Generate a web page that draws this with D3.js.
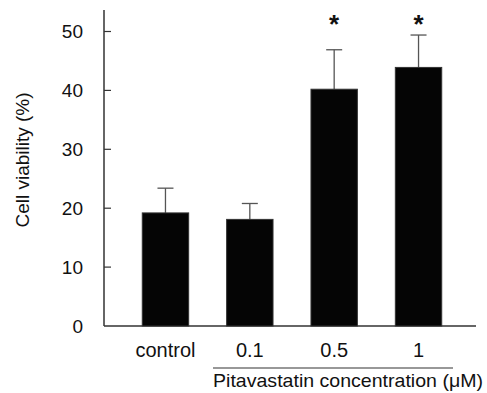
<!DOCTYPE html>
<html>
<head>
<meta charset="utf-8">
<script src="https://cdn.jsdelivr.net/npm/d3@7"></script>
<style>
  body { margin: 0; background: #fff; }
  svg { display: block; font-family: Arial, "Liberation Sans", sans-serif; }
</style>
</head>
<body>
<svg id="chart" width="487" height="393"></svg>
<script>
// data
const groups = ['control', '0.1', '0.5', '1'];
const means = [19.2, 18.1, 40.2, 43.9];
const errors = [4.2, 2.7, 6.7, 5.5];
const significant = [false, false, true, true];
const yTicks = [0, 10, 20, 30, 40, 50];

const svg = d3.select('#chart');
const ink = '#333';

const y = d3.scaleLinear().domain([0, 50]).range([326, 31.5]);
const x = d3.scaleBand()
  .domain(groups)
  .range([106, 478])
  .paddingInner(0.45)
  .paddingOuter(0.43);

// axes
const axisX0 = 104;
svg.append('line')
  .attr('x1', axisX0).attr('x2', axisX0)
  .attr('y1', 10).attr('y2', y(0))
  .attr('stroke', ink).attr('stroke-width', 1.5);
svg.append('line')
  .attr('x1', axisX0).attr('x2', 476)
  .attr('y1', y(0)).attr('y2', y(0))
  .attr('stroke', ink).attr('stroke-width', 1.5);

const yt = svg.append('g');
yt.selectAll('line').data(yTicks.filter(d => d > 0)).join('line')
  .attr('x1', axisX0).attr('x2', axisX0 + 7)
  .attr('y1', d => y(d)).attr('y2', d => y(d))
  .attr('stroke', ink).attr('stroke-width', 1.2);
yt.selectAll('text').data(yTicks).join('text')
  .attr('x', 83).attr('y', d => y(d))
  .attr('dy', '0.35em')
  .attr('text-anchor', 'end')
  .attr('font-size', 19)
  .attr('fill', '#111')
  .text(d => d);

svg.append('text')
  .attr('transform', `translate(29,160) rotate(-90)`)
  .attr('text-anchor', 'middle')
  .attr('font-size', 19)
  .attr('fill', '#111')
  .text('Cell viability (%)');

// error bars (upper only)
const eb = svg.append('g').attr('stroke', '#555').attr('stroke-width', 1.3);
groups.forEach((g, i) => {
  const cx = x(g) + x.bandwidth() / 2;
  eb.append('line')
    .attr('x1', cx).attr('x2', cx)
    .attr('y1', y(means[i])).attr('y2', y(means[i] + errors[i]));
  eb.append('line')
    .attr('x1', cx - 8).attr('x2', cx + 8)
    .attr('y1', y(means[i] + errors[i])).attr('y2', y(means[i] + errors[i]));
});

// bars
svg.append('g').selectAll('rect').data(groups).join('rect')
  .attr('x', d => x(d))
  .attr('width', x.bandwidth())
  .attr('y', (d, i) => y(means[i]))
  .attr('height', (d, i) => y(0) - y(means[i]))
  .attr('fill', '#050505')
  .attr('stroke', '#333')
  .attr('stroke-width', 1);

// significance marks
svg.append('g').selectAll('text').data(groups.filter((g, i) => significant[i])).join('text')
  .attr('x', d => x(d) + x.bandwidth() / 2)
  .attr('y', 33)
  .attr('text-anchor', 'middle')
  .attr('font-size', 26)
  .attr('font-weight', 'bold')
  .attr('fill', '#111')
  .text('*');

// category labels
svg.append('g').selectAll('text').data(groups).join('text')
  .attr('x', d => x(d) + x.bandwidth() / 2)
  .attr('y', 350)
  .attr('dy', '0.35em')
  .attr('text-anchor', 'middle')
  .attr('font-size', 20)
  .attr('fill', '#111')
  .text(d => d);

svg.append('line')
  .attr('x1', 213).attr('x2', 453)
  .attr('y1', 368).attr('y2', 368)
  .attr('stroke', ink).attr('stroke-width', 1.2);

svg.append('text')
  .attr('x', 213).attr('y', 387)
  .attr('font-size', 19)
  .attr('textLength', 270)
  .attr('lengthAdjust', 'spacingAndGlyphs')
  .attr('fill', '#111')
  .text('Pitavastatin concentration (μM)');
</script>
</body>
</html>
